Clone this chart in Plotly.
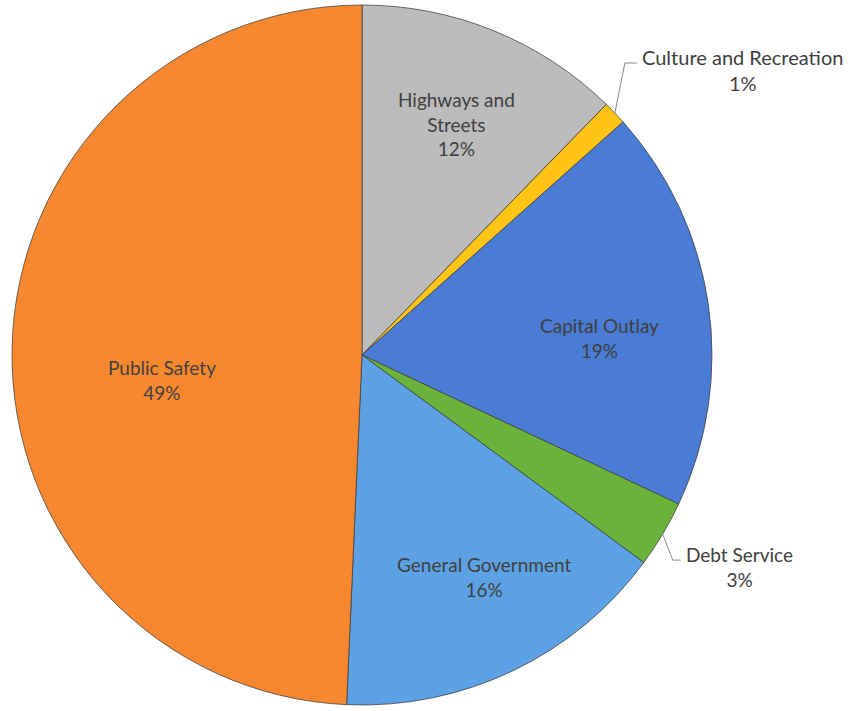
import math
import plotly.graph_objects as go

categories = ["Highways and Streets", "Culture and Recreation", "Capital Outlay",
              "Debt Service", "General Government", "Public Safety"]
display_labels = ["Highways and<br>Streets", "Culture and Recreation", "Capital Outlay",
                  "Debt Service", "General Government", "Public Safety"]
values = [12.3, 1.1, 18.6, 3.1, 15.6, 49.3]
colors = ["#BCBCBC", "#FFC414", "#4A7BD5", "#6CB33C", "#5CA2E4", "#F7882F"]
# label placement style
label_mode = ["in", "out", "in", "out", "in", "in"]
label_frac = [0.714, 0, 0.68, 0, 0.724, 0.576]
label_dangle = [0, 0, 4.2, 0, -3.2, -8.4]
label_size = [19, 20, 19, 19, 19, 19]
# leader line style for outside labels: (dx to elbow, dy to elbow, horizontal length, text offset)
leader = {1: (10, -50, 12, 7), 3: (10, 26, 8, 7)}

W, H = 850, 711
cx, cy, R = 362, 355, 350

fig = go.Figure(go.Pie(
    labels=categories, values=values, sort=False, direction="clockwise", rotation=0,
    marker=dict(colors=colors, line=dict(color="rgba(60,60,60,0.75)", width=1)),
    textinfo="none", hoverinfo="label+percent", showlegend=False,
    domain=dict(x=[(cx - R) / W, (cx + R) / W], y=[1 - (cy + R) / H, 1 - (cy - R) / H]),
))

total = sum(values)
pcts = [round(v / total * 100) for v in values]


def px_to_paper(x, y):
    return x / W, 1 - y / H


annotations = []
shapes = []
cum = 0
for i, v in enumerate(values):
    font = dict(family="Lato, 'Open Sans', sans-serif", size=label_size[i], color="#404040")
    a0 = cum / total * 2 * math.pi
    cum += v
    a1 = cum / total * 2 * math.pi
    am = (a0 + a1) / 2
    text = f"{display_labels[i]}<br>{pcts[i]}%"
    if label_mode[i] == "in":
        f = label_frac[i]
        a = am + math.radians(label_dangle[i])
        x = cx + R * f * math.sin(a)
        y = cy - R * f * math.cos(a)
        px, py = px_to_paper(x, y)
        annotations.append(dict(x=px, y=py, xref="paper", yref="paper", text=text,
                                showarrow=False, font=font, align="center",
                                xanchor="center", yanchor="middle"))
    else:
        ex = cx + R * math.sin(am)
        ey = cy - R * math.cos(am)
        dx, dy, hl, toff = leader[i]
        kx, ky = ex + dx, ey + dy
        hx = kx + hl
        p = [px_to_paper(ex, ey), px_to_paper(kx, ky), px_to_paper(hx, ky)]
        path = "M {} {} L {} {} L {} {}".format(p[0][0], p[0][1], p[1][0], p[1][1], p[2][0], p[2][1])
        shapes.append(dict(type="path", path=path, xref="paper", yref="paper",
                           line=dict(color="#8c8c8c", width=1)))
        tx, ty = px_to_paper(hx + 3, ky + toff)
        annotations.append(dict(x=tx, y=ty, xref="paper", yref="paper", text=text,
                                showarrow=False, font=font, align="center",
                                xanchor="left", yanchor="middle"))

fig.update_layout(
    width=W, height=H, margin=dict(l=0, r=0, t=0, b=0),
    paper_bgcolor="white", plot_bgcolor="white",
    annotations=annotations, shapes=shapes,
)
fig.write_html("out.html")
